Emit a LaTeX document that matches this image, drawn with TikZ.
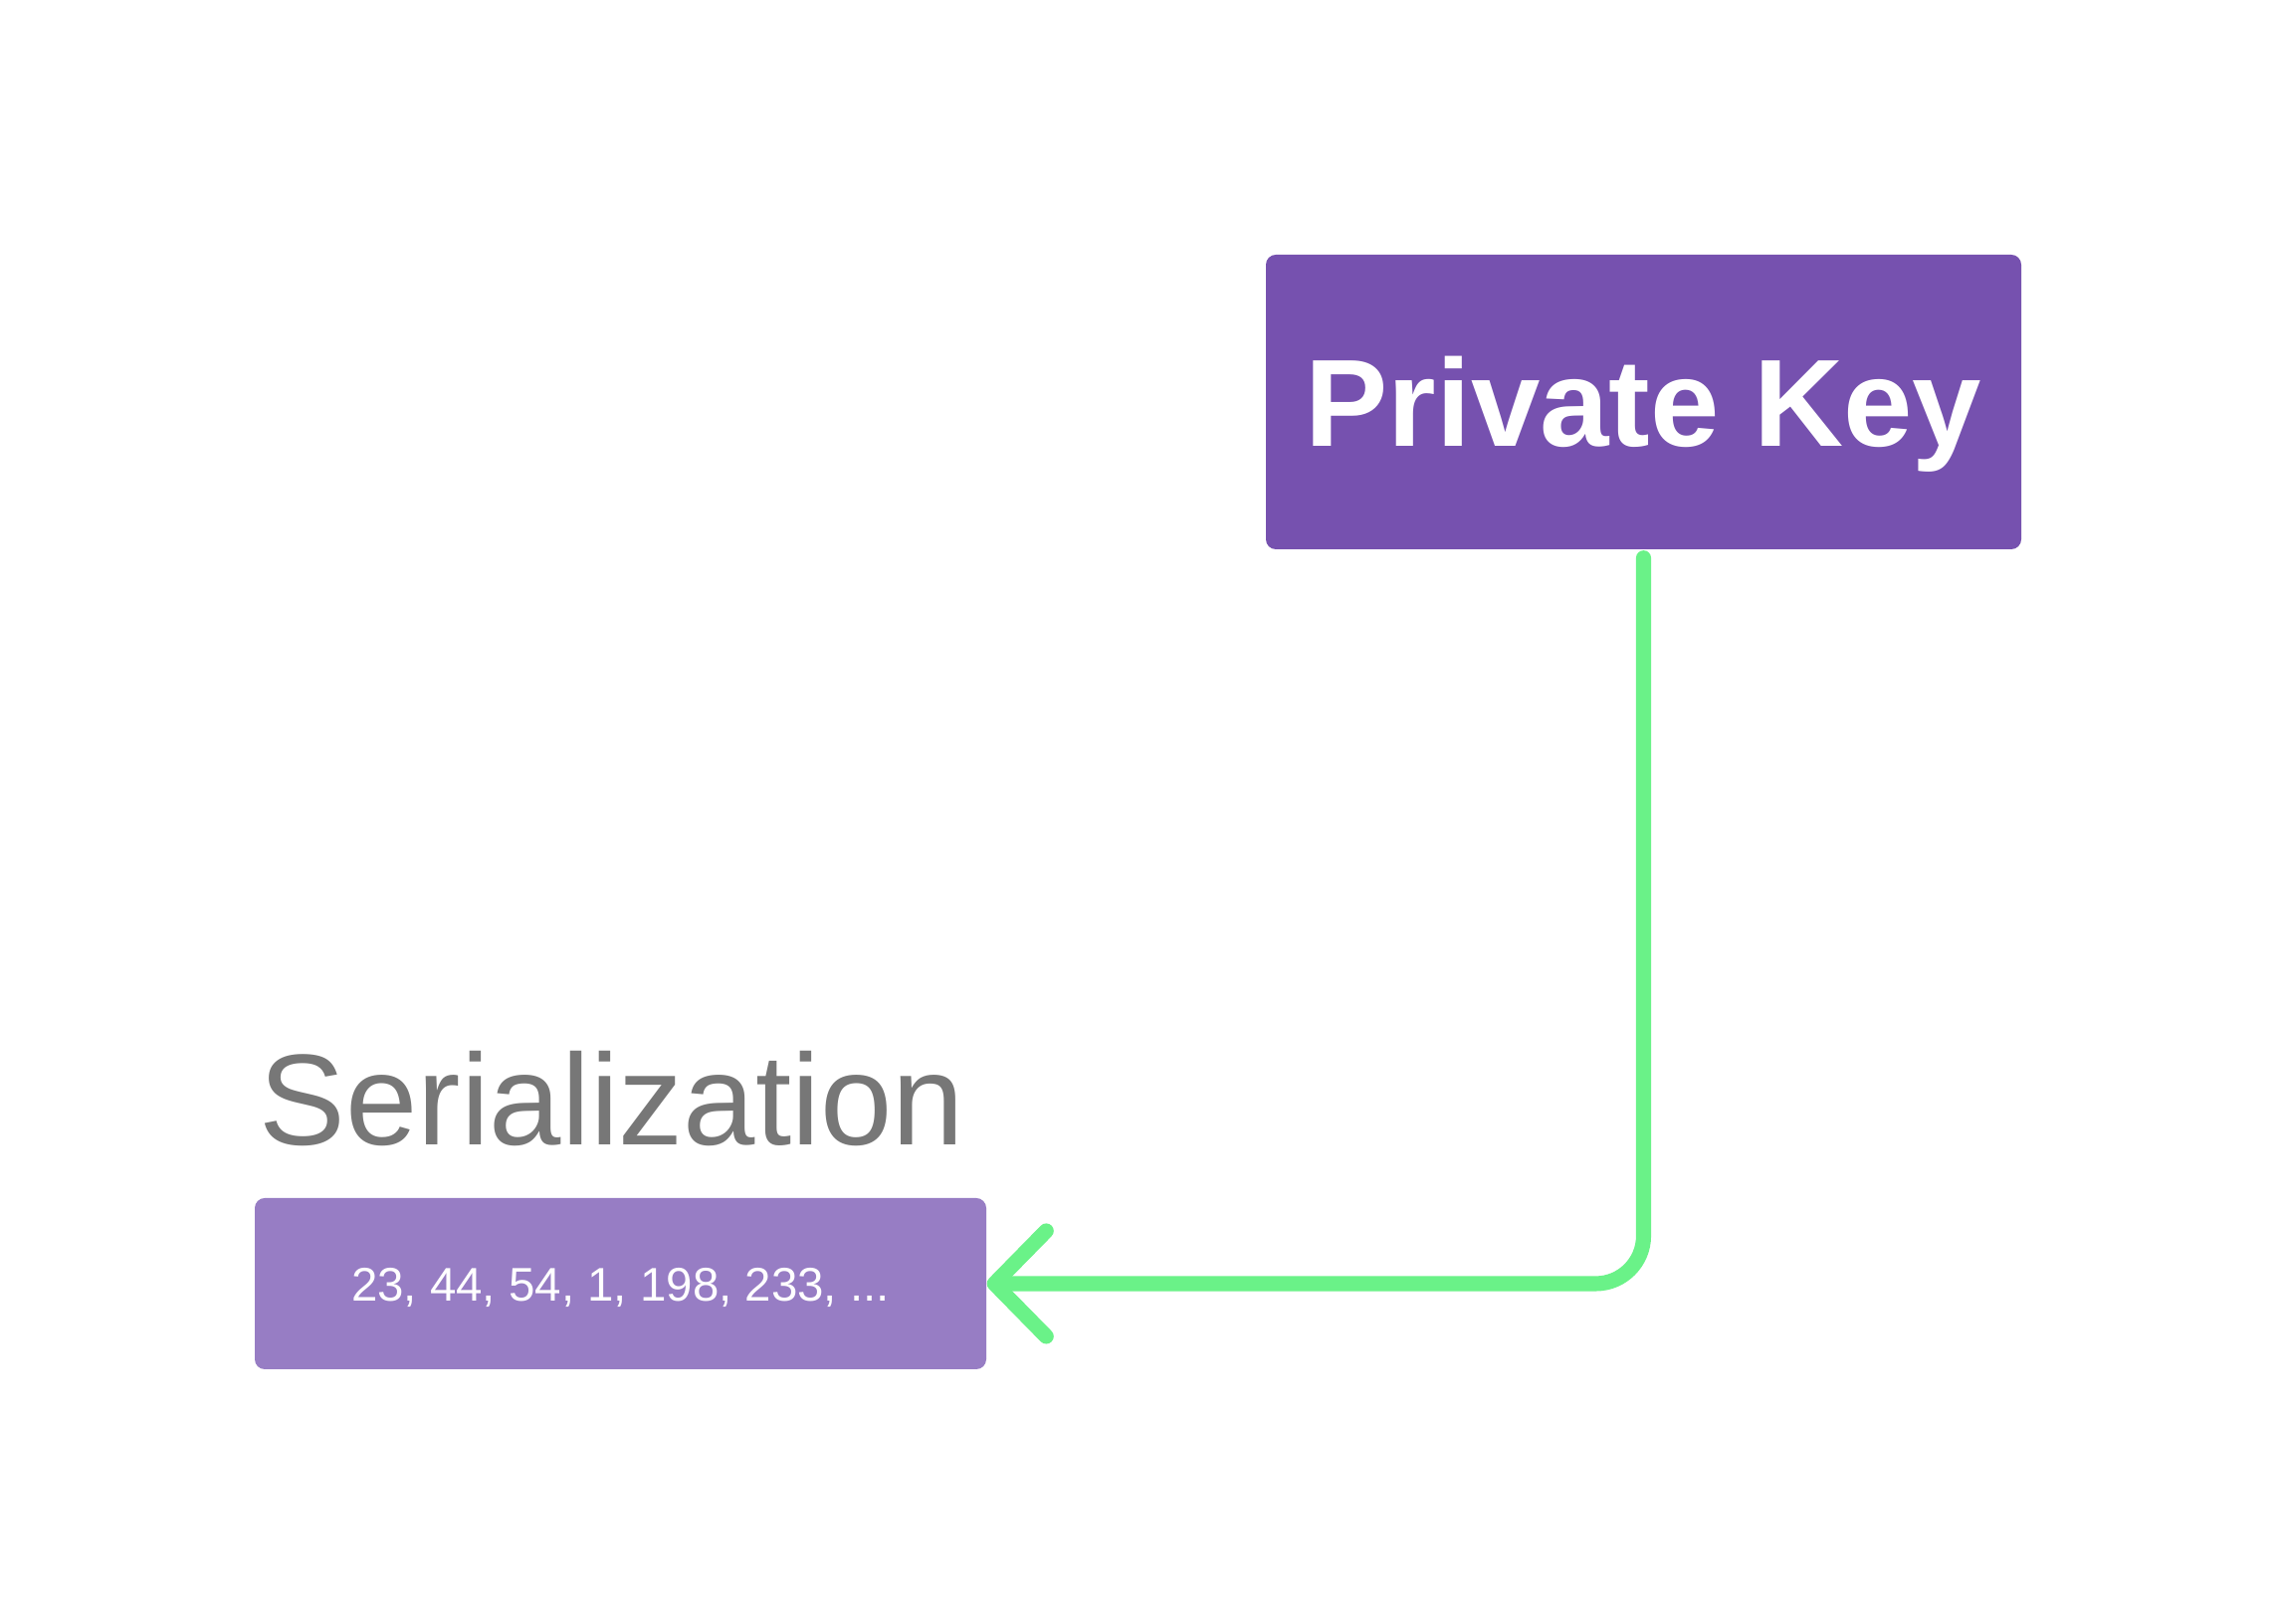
\documentclass[tikz,border=0pt]{standalone}
\usepackage{fontspec}
\setmainfont{Liberation Sans}
\usetikzlibrary{arrows.meta}
\definecolor{keypurple}{HTML}{7651AF}
\definecolor{serpurple}{HTML}{977DC4}
\definecolor{linkgreen}{HTML}{6AF288}
\definecolor{labelgray}{HTML}{777777}
\begin{document}
\begin{tikzpicture}[>={Straight Barb[length=5.2mm, width=10.6mm, round]},
    box/.style={fill=#1, rounded corners=1mm, inner sep=0pt, text=white},
    link/.style={draw=linkgreen, line width=4.3pt, line cap=round, rounded corners=4.8mm}]
    % Khung
    \fill[white] (0,0) rectangle (22.88,16.32);
    \useasboundingbox (0,0) rectangle (22.88,16.32);
    % Hai hop
    \node[box=keypurple, minimum width=7.59cm, minimum height=2.96cm, text height=0.9cm, text depth=0pt,
        font=\fontsize{35.5}{40}\selectfont\bfseries] (pk) at (16.515,12.28) {Private Key};
    \node[box=serpurple, minimum width=7.35cm, minimum height=1.72cm, text height=0.35cm, text depth=0pt,
        font=\fontsize{13.5}{16}\selectfont] (ser) at (6.235,3.42) {23, 44, 54, 1, 198, 233, ...};
    \node[anchor=base west, inner sep=0pt, text=labelgray, font=\fontsize{37}{40}\selectfont] (lbl) at (2.60,4.81) {Serialization};
    % Mui ten
    \draw[link, ->] ([yshift=-0.8mm]pk.south) |- (ser.east);
\end{tikzpicture}
\end{document}
